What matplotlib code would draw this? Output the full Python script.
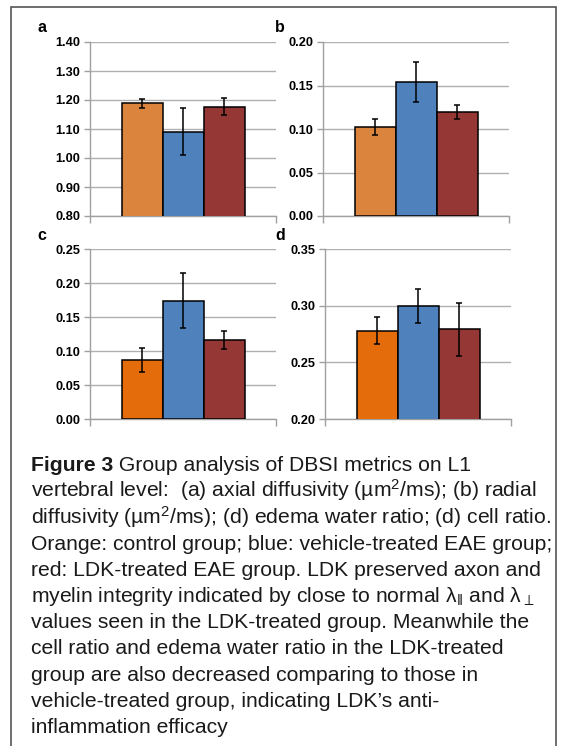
import numpy as np
import matplotlib
matplotlib.use("Agg")
import matplotlib.pyplot as plt
from matplotlib.patches import Rectangle

plt.rcParams["font.family"] = ["Liberation Sans", "DejaVu Sans"]
plt.rcParams["mathtext.fontset"] = "custom"
plt.rcParams["mathtext.rm"] = "Liberation Sans"
plt.rcParams["mathtext.it"] = "Liberation Sans:italic"
plt.rcParams["mathtext.bf"] = "Liberation Sans:bold"

# group order: control, vehicle-treated EAE, LDK-treated EAE
groups = ["Control", "Vehicle EAE", "LDK EAE"]

axial = [1.189, 1.091, 1.177]
axial_err = [0.016, 0.081, 0.029]
radial = [0.102, 0.154, 0.120]
radial_err = [0.009, 0.023, 0.008]
edema = [0.087, 0.174, 0.116]
edema_err = [0.018, 0.040, 0.013]
cell = [0.278, 0.300, 0.279]
cell_err = [0.012, 0.015, 0.023]

axial_ticks = [0.80, 0.90, 1.00, 1.10, 1.20, 1.30, 1.40]
radial_ticks = [0.00, 0.05, 0.10, 0.15, 0.20]
edema_ticks = [0.00, 0.05, 0.10, 0.15, 0.20, 0.25]
cell_ticks = [0.20, 0.25, 0.30, 0.35]

caption = [
    " Group analysis of DBSI metrics on L1",
    "vertebral level:  (a) axial diffusivity (µm$\\mathregular{^2}$/ms); (b) radial",
    "diffusivity (µm$\\mathregular{^2}$/ms); (d) edema water ratio; (d) cell ratio.",
    "Orange: control group; blue: vehicle-treated EAE group;",
    "red: LDK-treated EAE group. LDK preserved axon and",
    "myelin integrity indicated by close to normal "
    "$\\mathregular{λ_{\\Vert}}$ and $\\mathregular{λ_{\\perp}}$",
    "values seen in the LDK-treated group. Meanwhile the",
    "cell ratio and edema water ratio in the LDK-treated",
    "group are also decreased comparing to those in",
    "vehicle-treated group, indicating LDK’s anti-",
    "inflammation efficacy",
]

W, H = 564, 746
fig = plt.figure(figsize=(W / 100, H / 100), dpi=100)

# outer frame
fig.add_artist(Rectangle((11 / W, -0.01), 545 / W, 1 - 7 / H + 0.01,
                         transform=fig.transFigure, fill=False,
                         edgecolor="#555555", linewidth=1.2))


def bar_panel(rect, values, errs, ticks, fmt, colors, letter, letter_xy):
    ax = fig.add_axes([rect[0] / W, 1 - rect[3] / H,
                       (rect[2] - rect[0]) / W, (rect[3] - rect[1]) / H])
    x = np.arange(len(values))
    ax.bar(x, values, width=1.0, color=colors, edgecolor="black",
           linewidth=1.1, zorder=3)
    ax.errorbar(x, values, yerr=errs, fmt="none", ecolor="black",
                elinewidth=1.1, capsize=2.2, capthick=1.1, zorder=4)
    half = (rect[2] - rect[0]) / 41.0 / 2
    ax.set_xlim(1 - half, 1 + half)
    ax.set_ylim(ticks[0], ticks[-1])
    ax.set_yticks(ticks)
    ax.set_yticklabels([fmt.format(t) for t in ticks], fontsize=9.2,
                       fontweight="bold")
    ax.set_xticks([1 - half, 1 + half])
    ax.set_xticklabels([])
    ax.yaxis.grid(True, color="#b0b0b0", linewidth=1.0, zorder=0)
    for s in ["top", "right"]:
        ax.spines[s].set_visible(False)
    for s in ["left", "bottom"]:
        ax.spines[s].set_color("#a0a0a0")
        ax.spines[s].set_linewidth(1.0)
    ax.tick_params(axis="both", color="#a0a0a0", length=4, width=1.0,
                   pad=3)
    ax.tick_params(axis="x", length=5)
    fig.text(letter_xy[0] / W, 1 - letter_xy[1] / H, letter, fontsize=11.5,
             fontweight="bold", ha="left", va="baseline")
    return ax


light = ["#DB843D", "#4F81BD", "#953735"]
dark = ["#E46C0A", "#4F81BD", "#953735"]

bar_panel((90, 42, 276, 216), axial, axial_err, axial_ticks, "{:.2f}",
          light, "a", (37, 32))
bar_panel((323, 42, 509, 216), radial, radial_err, radial_ticks, "{:.2f}",
          light, "b", (275, 32))
bar_panel((90, 249, 276, 419), edema, edema_err, edema_ticks, "{:.2f}",
          dark, "c", (37, 240))
bar_panel((325, 249, 511, 419), cell, cell_err, cell_ticks, "{:.2f}",
          dark, "d", (275, 240))

# caption, one text per line
cap_x = 31
first = 471
step = 26.2
fs = 15.2
tcol = "#1a1a1a"
head = fig.text(cap_x / W, 1 - first / H, "Figure 3", fontsize=fs,
                fontweight="bold", color=tcol, ha="left", va="baseline")
fig.canvas.draw()
bb = head.get_window_extent(fig.canvas.get_renderer())
fig.text(bb.x1 / W, 1 - first / H, caption[0], fontsize=fs, color=tcol,
         ha="left", va="baseline")
for i, line in enumerate(caption[1:], start=1):
    fig.text(cap_x / W, 1 - (first + i * step) / H, line, fontsize=fs,
             color=tcol, ha="left", va="baseline")

fig.savefig("out.png", dpi=100)
